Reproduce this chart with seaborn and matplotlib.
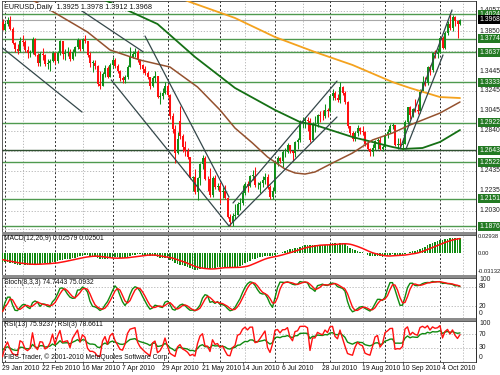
import numpy as np
import pandas as pd
import matplotlib
matplotlib.use("Agg")
import matplotlib.pyplot as plt
from matplotlib.transforms import blended_transform_factory
from matplotlib.patches import Rectangle
import seaborn as sns

# ---------------- data (EURUSD daily, 29 Jan 2010 .. 13 Oct 2010) ----------------
dates = pd.bdate_range("2010-01-29", "2010-10-13")
first_open = 1.3945
gap_opens = {71: 1.2940}          # bars whose open differs from the previous close

closes = [
    1.3865, 1.3925, 1.3960, 1.3875, 1.3735, 1.3670, 1.3650, 1.3755, 1.3740, 1.3660,
    1.3630, 1.3640, 1.3775, 1.3610, 1.3530, 1.3615, 1.3610, 1.3515, 1.3525, 1.3550,
    1.3625, 1.3545, 1.3625, 1.3750, 1.3620, 1.3630, 1.3635, 1.3570, 1.3640, 1.3690,
    1.3765, 1.3670, 1.3770, 1.3750, 1.3610, 1.3530, 1.3530, 1.3500, 1.3315, 1.3290,
    1.3415, 1.3480, 1.3390, 1.3510, 1.3560, 1.3495, 1.3445, 1.3375, 1.3360, 1.3390,
    1.3490, 1.3590, 1.3615, 1.3640, 1.3555, 1.3505, 1.3470, 1.3430, 1.3385, 1.3300,
    1.3380, 1.3395, 1.3180, 1.3195, 1.3225, 1.3295, 1.3205, 1.2990, 1.2860, 1.2620,
    1.2755, 1.2790, 1.2680, 1.2640, 1.2580, 1.2360, 1.2370, 1.2225, 1.2360, 1.2505,
    1.2565, 1.2355, 1.2350, 1.2195, 1.2365, 1.2275, 1.2285, 1.2225, 1.2235, 1.2160,
    1.1965, 1.1915, 1.1975, 1.1990, 1.2095, 1.2110, 1.2210, 1.2300, 1.2285, 1.2385,
    1.2385, 1.2290, 1.2295, 1.2315, 1.2340, 1.2375, 1.2270, 1.2170, 1.2230, 1.2520,
    1.2565, 1.2535, 1.2625, 1.2630, 1.2695, 1.2640, 1.2615, 1.2730, 1.2745, 1.2935,
    1.2945, 1.2950, 1.2945, 1.2745, 1.2905, 1.2905, 1.3005, 1.2995, 1.2990, 1.3055,
    1.3045, 1.3195, 1.3225, 1.3170, 1.3155, 1.3280, 1.3220, 1.3130, 1.2890, 1.2815,
    1.2755, 1.2820, 1.2865, 1.2840, 1.2830, 1.2705, 1.2660, 1.2625, 1.2665, 1.2735,
    1.2750, 1.2660, 1.2680, 1.2795, 1.2830, 1.2890, 1.2895, 1.2700, 1.2705, 1.2700,
    1.2710, 1.2935, 1.3080, 1.3000, 1.3065, 1.3050, 1.3045, 1.3235, 1.3340, 1.3330,
    1.3490, 1.3460, 1.3625, 1.3615, 1.3635, 1.3780, 1.3675, 1.3830, 1.3920, 1.3880,
    1.3995, 1.3950, 1.3925, 1.3968]

highs = [
    1.3975, 1.3940, 1.3995, 1.4000, 1.3890, 1.3745, 1.3720, 1.3790, 1.3815, 1.3760,
    1.3705, 1.3660, 1.3790, 1.3785, 1.3625, 1.3640, 1.3675, 1.3615, 1.3570, 1.3570,
    1.3650, 1.3635, 1.3645, 1.3765, 1.3750, 1.3670, 1.3695, 1.3665, 1.3665, 1.3705,
    1.3785, 1.3765, 1.3785, 1.3810, 1.3755, 1.3635, 1.3560, 1.3555, 1.3505, 1.3450,
    1.3435, 1.3510, 1.3495, 1.3530, 1.3585, 1.3575, 1.3520, 1.3460, 1.3400, 1.3410,
    1.3505, 1.3690, 1.3650, 1.3680, 1.3660, 1.3570, 1.3520, 1.3500, 1.3450, 1.3390,
    1.3400, 1.3450, 1.3400, 1.3230, 1.3270, 1.3340, 1.3320, 1.3210, 1.3020, 1.2900,
    1.2825, 1.3094, 1.2810, 1.2740, 1.2670, 1.2580, 1.2385, 1.2455, 1.2370, 1.2510,
    1.2600, 1.2585, 1.2385, 1.2460, 1.2380, 1.2395, 1.2315, 1.2325, 1.2270, 1.2290,
    1.2175, 1.1995, 1.2005, 1.2100, 1.2115, 1.2160, 1.2290, 1.2325, 1.2330, 1.2395,
    1.2440, 1.2470, 1.2325, 1.2330, 1.2385, 1.2410, 1.2400, 1.2290, 1.2275, 1.2530,
    1.2585, 1.2575, 1.2650, 1.2670, 1.2720, 1.2700, 1.2640, 1.2740, 1.2770, 1.2950,
    1.2985, 1.2980, 1.2980, 1.2975, 1.2930, 1.2990, 1.3015, 1.3040, 1.3050, 1.3110,
    1.3070, 1.3215, 1.3260, 1.3245, 1.3210, 1.3333, 1.3300, 1.3245, 1.3145, 1.2890,
    1.2840, 1.2840, 1.2900, 1.2880, 1.2890, 1.2835, 1.2730, 1.2665, 1.2710, 1.2750,
    1.2770, 1.2775, 1.2700, 1.2815, 1.2860, 1.2905, 1.2920, 1.2895, 1.2765, 1.2770,
    1.2765, 1.2955, 1.3085, 1.3095, 1.3075, 1.3160, 1.3115, 1.3265, 1.3395, 1.3390,
    1.3500, 1.3510, 1.3640, 1.3655, 1.3680, 1.3790, 1.3800, 1.3850, 1.3950, 1.4030,
    1.4015, 1.4005, 1.3965, 1.3978]

lows = [
    1.3860, 1.3855, 1.3905, 1.3860, 1.3720, 1.3640, 1.3620, 1.3640, 1.3700, 1.3640,
    1.3580, 1.3590, 1.3620, 1.3600, 1.3500, 1.3500, 1.3560, 1.3500, 1.3465, 1.3445,
    1.3535, 1.3520, 1.3530, 1.3610, 1.3570, 1.3560, 1.3600, 1.3550, 1.3560, 1.3600,
    1.3670, 1.3650, 1.3650, 1.3730, 1.3590, 1.3490, 1.3435, 1.3470, 1.3290, 1.3267,
    1.3290, 1.3390, 1.3380, 1.3385, 1.3480, 1.3480, 1.3425, 1.3345, 1.3325, 1.3330,
    1.3365, 1.3485, 1.3575, 1.3590, 1.3535, 1.3465, 1.3430, 1.3405, 1.3365, 1.3260,
    1.3280, 1.3340, 1.3170, 1.3115, 1.3160, 1.3215, 1.3185, 1.2960, 1.2815, 1.2520,
    1.2610, 1.2755, 1.2625, 1.2590, 1.2560, 1.2350, 1.2235, 1.2205, 1.2145, 1.2290,
    1.2450, 1.2340, 1.2235, 1.2170, 1.2175, 1.2250, 1.2240, 1.2110, 1.2160, 1.2150,
    1.1960, 1.1876, 1.1880, 1.1945, 1.1990, 1.2040, 1.2090, 1.2195, 1.2225, 1.2275,
    1.2340, 1.2275, 1.2255, 1.2215, 1.2270, 1.2300, 1.2255, 1.2150, 1.2155, 1.2215,
    1.2480, 1.2510, 1.2470, 1.2580, 1.2620, 1.2620, 1.2540, 1.2580, 1.2660, 1.2730,
    1.2870, 1.2870, 1.2835, 1.2730, 1.2740, 1.2830, 1.2875, 1.2930, 1.2955, 1.2975,
    1.2985, 1.3030, 1.3155, 1.3150, 1.3130, 1.3120, 1.3205, 1.3110, 1.2870, 1.2795,
    1.2735, 1.2735, 1.2790, 1.2805, 1.2795, 1.2690, 1.2650, 1.2589, 1.2590, 1.2650,
    1.2660, 1.2650, 1.2635, 1.2665, 1.2765, 1.2820, 1.2855, 1.2685, 1.2660, 1.2665,
    1.2645, 1.2710, 1.2905, 1.2960, 1.2985, 1.3030, 1.3010, 1.3020, 1.3230, 1.3295,
    1.3310, 1.3405, 1.3440, 1.3580, 1.3580, 1.3630, 1.3670, 1.3665, 1.3815, 1.3865,
    1.3850, 1.3900, 1.3780, 1.3912]

# closes before the window, used only to seed MACD / RSI
pre_closes = [
    1.4885, 1.4960, 1.4945, 1.4855, 1.4860, 1.4965, 1.4960, 1.5125, 1.4985, 1.4970,
    1.4990, 1.5075, 1.5085, 1.5060, 1.4860, 1.4810, 1.4710, 1.4715, 1.4725, 1.4620,
    1.4625, 1.4530, 1.4525, 1.4345, 1.4340, 1.4265, 1.4255, 1.4305, 1.4400, 1.4345,
    1.4360, 1.4340, 1.4325, 1.4320, 1.4415, 1.4370, 1.4405, 1.4310, 1.4410, 1.4510,
    1.4500, 1.4530, 1.4495, 1.4380, 1.4390, 1.4280, 1.4105, 1.4095, 1.4145, 1.4145,
    1.4065, 1.4020, 1.3965]

# moving averages (bar index, price)
ma_orange_idx = [72, 75, 93, 109, 125, 140, 156, 163, 175, 183]
ma_orange_val = [1.4176, 1.4146, 1.3984, 1.3791, 1.3639, 1.3508, 1.3335, 1.3275, 1.3183, 1.3173]
ma_green_idx = [40, 48, 55, 62, 77, 93, 109, 119, 125, 140, 156, 160, 168, 175, 183]
ma_green_val = [1.4176, 1.4085, 1.4004, 1.3923, 1.3589, 1.3275, 1.3052, 1.2930, 1.2900,
                1.2778, 1.2677, 1.2657, 1.2667, 1.2728, 1.2849]
ma_brown_idx = [12, 19, 34, 43, 55, 67, 78, 87, 93, 100, 106, 113, 117, 121, 125, 132,
                140, 148, 156, 163, 175, 183]
ma_brown_val = [1.4166, 1.4065, 1.3842, 1.3660, 1.3558, 1.3487, 1.3285, 1.3052, 1.2869,
                1.2717, 1.2576, 1.2454, 1.2414, 1.2403, 1.2424, 1.2515, 1.2616, 1.2748,
                1.2819, 1.2900, 1.3021, 1.3133]

# trend lines (start index, start price, end index, end price)
trendlines = [
    (-1.0, 1.3700, 31.8, 1.3031),
    (30.2, 1.4082, 56.2, 1.3642),
    (43.5, 1.3356, 90.6, 1.1877),
    (57.0, 1.3801, 90.6, 1.2170),
    (92.2, 1.2110, 133.8, 1.3345),
    (90.6, 1.1877, 133.8, 1.2981),
    (159.0, 1.2657, 179.8, 1.4065),
    (161.4, 1.2657, 176.2, 1.3609),
]

sr_levels = [1.4024, 1.3774, 1.3637, 1.3333, 1.2922, 1.2643, 1.2522, 1.2151, 1.1876]
current_price = 1.3968
grid_levels = [1.4057, 1.3850, 1.3650, 1.3445, 1.3245, 1.3045, 1.2840, 1.2640, 1.2435,
               1.2235, 1.2030, 1.1850]
grid_labels = ["1.4057", "1.3850", "", "1.3445", "1.3245", "1.3045", "1.2840", "",
               "1.2435", "1.2235", "1.2030", "1.1850"]
light_grid_idx = [8, 32, 56, 76, 97, 120, 144, 160, 184]

# ---------------- derived OHLC / indicators ----------------
n = len(closes)
idx = np.arange(n)
opens = [first_open] + closes[:-1]
for k, v in gap_opens.items():
    opens[k] = v
o = np.array(opens); c = np.array(closes)
h = np.maximum(np.array(highs), np.maximum(o, c))
l = np.minimum(np.array(lows), np.minimum(o, c))

c_all = pd.Series(pre_closes + closes)
npre = len(pre_closes)
macd_all = c_all.ewm(span=12, adjust=False).mean() - c_all.ewm(span=26, adjust=False).mean()
sig_all = macd_all.rolling(9).mean()
macd = macd_all.iloc[npre:].values
macd_sig = sig_all.iloc[npre:].values

def rsi(s, p):
    d = s.diff()
    up = d.clip(lower=0).ewm(alpha=1 / p, adjust=False).mean()
    dn = (-d.clip(upper=0)).ewm(alpha=1 / p, adjust=False).mean()
    return 100 - 100 / (1 + up / dn)

rsi13 = rsi(c_all, 13).iloc[npre:].values
rsi3 = rsi(c_all, 3).iloc[npre:].values

hh = pd.Series(h).rolling(8, min_periods=1).max()
ll = pd.Series(l).rolling(8, min_periods=1).min()
cs = pd.Series(c)
stk = ((cs - ll).rolling(3, min_periods=1).sum() /
       (hh - ll).rolling(3, min_periods=1).sum() * 100).values
std = pd.Series(stk).rolling(3, min_periods=1).mean().values

# ---------------- figure ----------------
sns.set_style("white")
plt.rcParams['font.family'] = ['Liberation Sans', 'DejaVu Sans']
W, H = 500, 375
fig = plt.figure(figsize=(5, 3.75), dpi=100)
fig.patch.set_facecolor("white")

def rect(x0, y0, x1, y1):
    return [x0 / W, 1 - y1 / H, (x1 - x0) / W, (y1 - y0) / H]

ax_main = fig.add_axes(rect(2, 1, 476, 232))
ax_macd = fig.add_axes(rect(2, 235, 476, 275))
ax_sto = fig.add_axes(rect(2, 278, 476, 318))
ax_rsi = fig.add_axes(rect(2, 321, 476, 362))
axes = [ax_main, ax_macd, ax_sto, ax_rsi]

XLIM = (-0.2, 189.4)
month_starts = [i for i in range(1, n) if dates[i].month != dates[i - 1].month]

GRID = '#b0b0b0'
for ax in axes:
    ax.set_xlim(*XLIM)
    ax.set_xticks([]); ax.set_yticks([])
    ax.set_facecolor('white')
    for sp in ax.spines.values():
        sp.set_color('#404040'); sp.set_linewidth(0.6)
    for m in month_starts:
        ax.axvline(m, color='#303030', lw=0.7, ls=(0, (2, 2)), zorder=1)
    for g in light_grid_idx:
        ax.axvline(g, color=GRID, lw=0.6, ls=(0, (1.5, 2)), zorder=1)

# ---- main panel ----
ax = ax_main
ax.set_ylim(1.1816, 1.4156)
for gv in grid_levels:
    ax.axhline(gv, color=GRID, lw=0.6, ls=(0, (1.5, 2)), zorder=1)
for lv in sr_levels:
    col = '#2f5030' if abs(lv - 1.2643) < 1e-6 else '#4f9a4f'
    ax.axhline(lv, color=col, lw=1.0, zorder=2)
ax.axhline(current_price, color='#a8a8a8', lw=0.8, zorder=2)

up = c >= o
UPC, DNC = '#10901a', '#ff1010'
colors = np.where(up, UPC, DNC)
ax.vlines(idx, l, h, colors=colors, lw=0.75, zorder=4)
body = np.maximum(np.abs(c - o), 0.0004)
ax.bar(idx, body, bottom=np.minimum(o, c), width=0.8, color=colors, linewidth=0, zorder=5)

sns.lineplot(x=ma_orange_idx, y=ma_orange_val, ax=ax, color='#f4a21e', lw=1.3, zorder=6)
sns.lineplot(x=ma_green_idx, y=ma_green_val, ax=ax, color='#157015', lw=1.3, zorder=6)
sns.lineplot(x=ma_brown_idx, y=ma_brown_val, ax=ax, color='#94512e', lw=1.1, zorder=6)
for (x0, y0, x1, y1) in trendlines:
    ax.plot([x0, x1], [y0, y1], color='#34474a', lw=0.9, zorder=7)
ax.set_xlim(*XLIM); ax.set_ylim(1.1816, 1.4156)
ax.set_xlabel(''); ax.set_ylabel('')

FS = 4.9
ax.text(0.004, 0.974, "EURUSD,Daily  1.3925 1.3978 1.3912 1.3968", transform=ax.transAxes,
        fontsize=5.2, va='center', ha='left', color='#101010', zorder=10,
        bbox=dict(boxstyle='square,pad=0.1', fc='white', ec='none'))

trm = blended_transform_factory(ax.transAxes, ax.transData)
XL = (479 - 2) / 474
for gv, gl in zip(grid_levels, grid_labels):
    if gl:
        ax.text(XL, gv, gl, transform=trm, fontsize=FS, va='center', ha='left',
                color='#202020', zorder=10)
for lv in sr_levels:
    ax.text(XL, lv, f"{lv:.4f}", transform=trm, fontsize=FS, va='center', ha='left',
            color='white', zorder=11,
            bbox=dict(boxstyle='square,pad=0.15', fc='#237a23', ec='none'))
ax.text(XL, current_price, f"{current_price:.4f}", transform=trm, fontsize=FS, va='center',
        ha='left', color='white', zorder=12,
        bbox=dict(boxstyle='square,pad=0.15', fc='black', ec='none'))

# ---- MACD ----
ax = ax_macd
ax.bar(idx, macd, width=0.62, color='#108a10', linewidth=0, zorder=3)
sns.lineplot(x=idx, y=macd_sig, ax=ax, color='#ff1010', lw=1.1, zorder=4)
ax.set_xlim(*XLIM); ax.set_ylim(-0.0364, 0.0311)
ax.set_xlabel(''); ax.set_ylabel('')
ax.text(0.004, 0.9, "MACD(12,26,9) 0.02579 0.02501", transform=ax.transAxes, fontsize=FS,
        va='center', ha='left', color='#101010')
trm = blended_transform_factory(ax.transAxes, ax.transData)
for v, t in [(0.02938, "0.02938"), (0.0, "0.00"), (-0.03132, "-0.03132")]:
    ax.text(XL - 0.002, v, t, transform=trm, fontsize=4.2, va='center', ha='left',
            color='#202020')

# ---- Stochastic ----
ax = ax_sto
for lv in (80, 20):
    ax.axhline(lv, color=GRID, lw=0.6, ls=(0, (1.5, 2)), zorder=1)
sns.lineplot(x=idx, y=stk, ax=ax, color='#108a10', lw=1.0, zorder=4)
sns.lineplot(x=idx, y=std, ax=ax, color='#ff1010', lw=1.0, zorder=5)
ax.set_xlim(*XLIM); ax.set_ylim(-15, 106)
ax.set_xlabel(''); ax.set_ylabel('')
ax.text(0.004, 0.9, "Stoch(8,3,3) 74.7443 75.0932", transform=ax.transAxes, fontsize=FS,
        va='center', ha='left', color='#101010')
trm = blended_transform_factory(ax.transAxes, ax.transData)
for v in (100, 80, 20, 0):
    ax.text(XL, v, str(v), transform=trm, fontsize=FS, va='center', ha='left', color='#202020')

# ---- RSI ----
ax = ax_rsi
for lv in (70, 30):
    ax.axhline(lv, color=GRID, lw=0.6, ls=(0, (1.5, 2)), zorder=1)
sns.lineplot(x=idx, y=rsi13, ax=ax, color='#108a10', lw=1.0, zorder=4)
sns.lineplot(x=idx, y=rsi3, ax=ax, color='#ff1010', lw=1.0, zorder=5)
ax.set_xlim(*XLIM); ax.set_ylim(-11.8, 108.8)
ax.set_xlabel(''); ax.set_ylabel('')
ax.text(0.004, 0.91, "RSI(13) 75.9237  RSI(3) 78.6611", transform=ax.transAxes, fontsize=FS,
        va='center', ha='left', color='#101010')
ax.text(0.004, 0.12, "FIBS-Trader, \u00a9 2001-2010 MetaQuotes Software Corp.",
        transform=ax.transAxes, fontsize=FS, va='center', ha='left', color='#101010', zorder=8)
trm = blended_transform_factory(ax.transAxes, ax.transData)
for v in (100, 70, 30, 0):
    ax.text(XL, v, str(v), transform=trm, fontsize=FS, va='center', ha='left', color='#202020')

# date axis
trd = blended_transform_factory(ax.transData, ax.transAxes)
for i in range(0, n, 16):
    lab = f"{dates[i].day} {dates[i].strftime('%b %Y')}"
    ax.text(i - 0.2, -0.17, lab, transform=trd, fontsize=FS, va='center', ha='left',
            color='#101010', clip_on=False)
    ax.plot([i, i], [0, -0.06], transform=trd, color='#404040', lw=0.6, clip_on=False)

# panel separators and frame
for yy in (233.5, 276.5, 319.5):
    fig.add_artist(Rectangle((2 / W, 1 - (yy + 1.2) / H), 474 / W, 2.4 / H,
                             transform=fig.transFigure, color='#8c8c8c', lw=0, zorder=20))
fig.add_artist(Rectangle((476 / W, 1 - 363 / H), 0.7 / W, 362 / H,
                         transform=fig.transFigure, color='#303030', lw=0, zorder=20))

fig.savefig("out.png", dpi=100)
